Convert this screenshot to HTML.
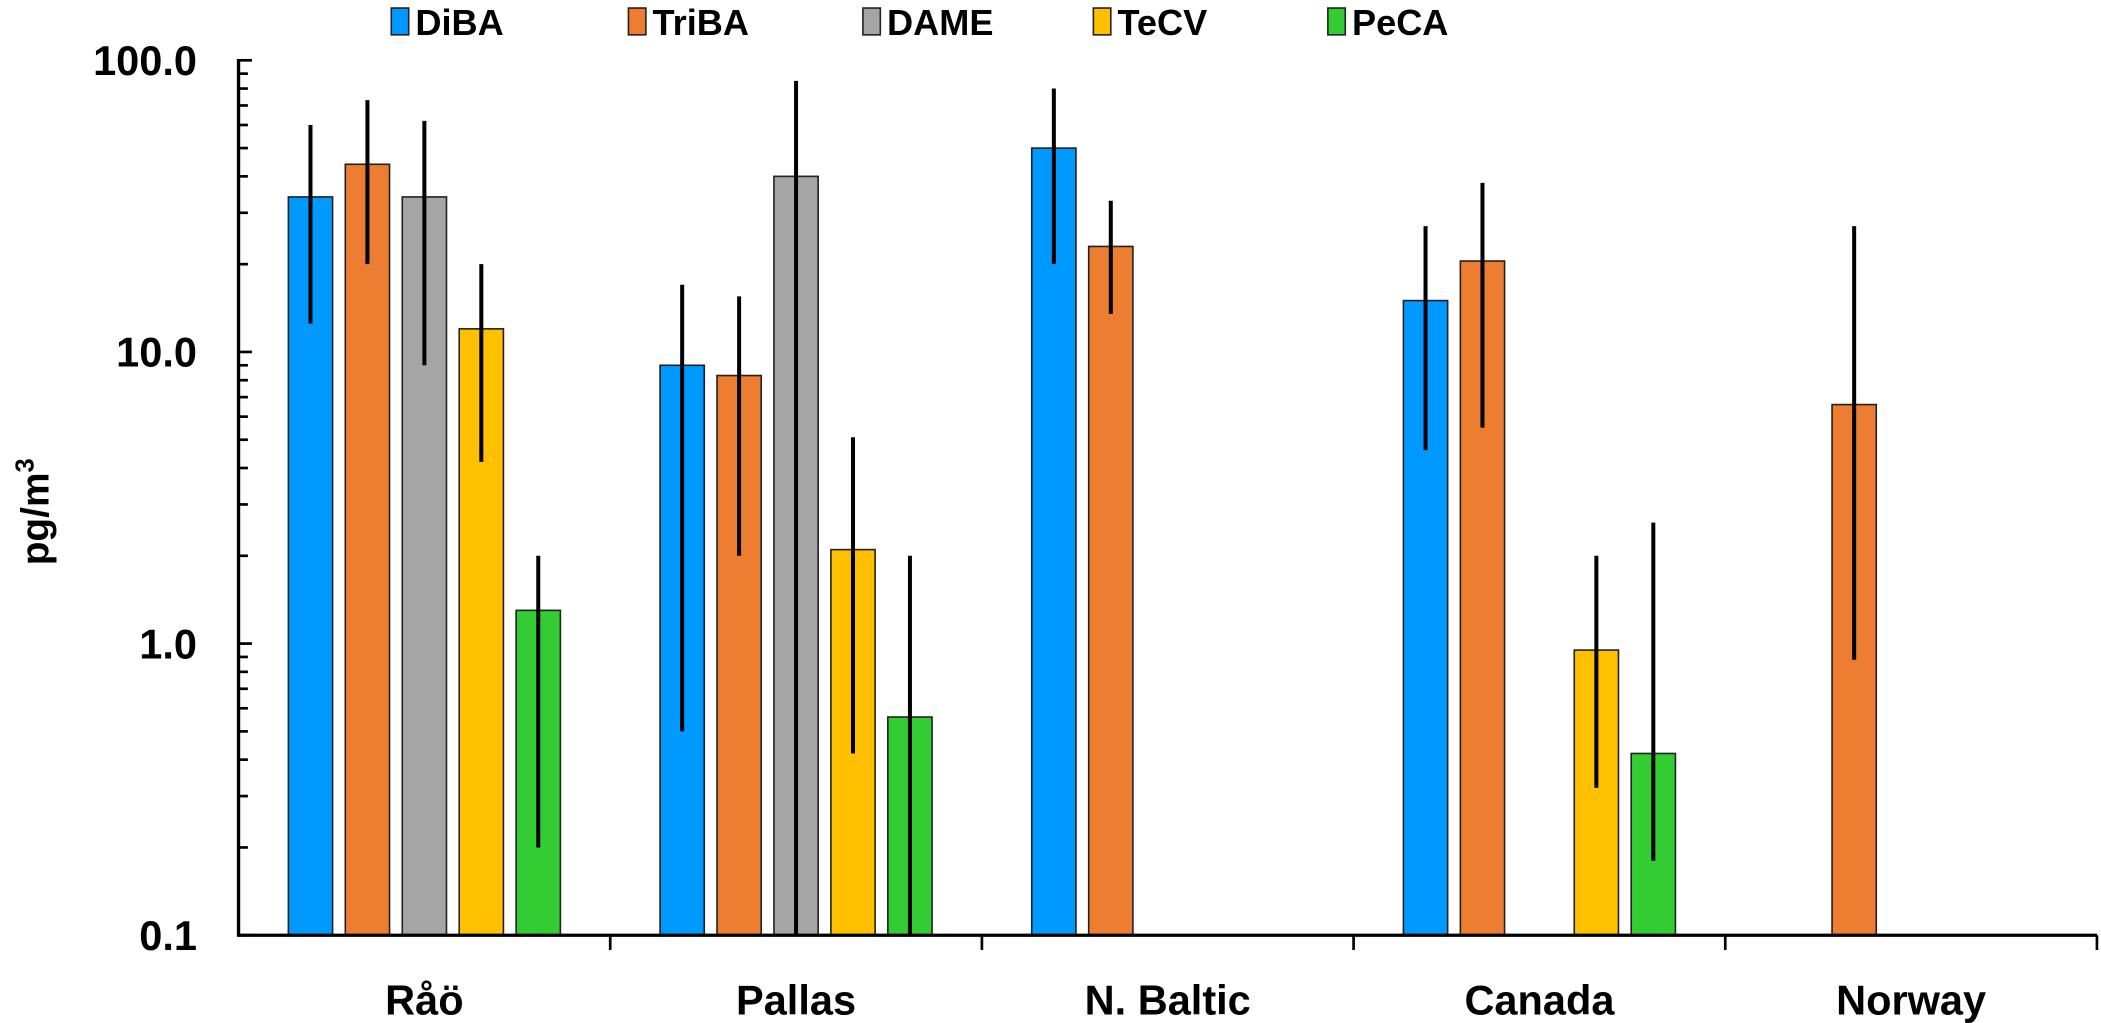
<!DOCTYPE html>
<html><head><meta charset="utf-8"><style>
html,body{margin:0;padding:0;background:#fff}
svg{display:block}
text{font-family:"Liberation Sans",Arial,sans-serif;font-weight:bold;fill:#000}
</style></head><body>
<svg id="chart" width="2101" height="1023" viewBox="0 0 1568 763.5" xmlns="http://www.w3.org/2000/svg"></svg>
<script>
const categories = ["Råö","Pallas","N. Baltic","Canada","Norway"];
const seriesNames = ["DiBA","TriBA","DAME","TeCV","PeCA"];
const seriesColors = ["#0099ff","#ed7d31","#a5a5a5","#ffc000","#33cc33"];
const diba  = [34, 9, 50, 15, null];
const triba = [44, 8.3, 23, 20.5, 6.6];
const dame  = [34, 40, null, null, null];
const tecv  = [12, 2.1, null, 0.95, null];
const peca  = [1.3, 0.56, null, 0.42, null];
const dibaLo=[12.5,0.5,20,4.6,null], dibaHi=[60,17,80,27,null];
const tribaLo=[20,2,13.5,5.5,0.88], tribaHi=[73,15.5,33,38,27];
const dameLo=[9,0.1,null,null,null], dameHi=[62,85,null,null,null];
const tecvLo=[4.2,0.42,null,0.32,null], tecvHi=[20,5.1,null,2.0,null];
const pecaLo=[0.2,0.1,null,0.18,null], pecaHi=[2.0,2.0,null,2.6,null];
const yTicks = [0.1,1,10,100];
const yTickLabels = ["0.1","1.0","10.0","100.0"];

const values=[diba,triba,dame,tecv,peca], lows=[dibaLo,tribaLo,dameLo,tecvLo,pecaLo], highs=[dibaHi,tribaHi,dameHi,tecvHi,pecaHi];
const svg=document.getElementById('chart');
const NS='http://www.w3.org/2000/svg';
const X0=178,X1=1565,YT=45,YB=698;
const y=v=>YB-(Math.log10(v)-Math.log10(0.1))/3*(YB-YT);
const gw=(X1-X0)/categories.length, pitch=42.5, bw=33;
const bx=(g,s)=>X0+g*gw+gw/2+(s-2)*pitch;
function mk(tag,attrs,parent){const e=document.createElementNS(NS,tag);for(const k in attrs)e.setAttribute(k,attrs[k]);(parent||svg).appendChild(e);return e;}

for(let s=0;s<5;s++)for(let g=0;g<categories.length;g++){
  const v=values[s][g]; if(v==null) continue;
  const r=mk('rect',{x:bx(g,s)-bw/2,y:y(v),width:bw,height:YB-y(v),fill:seriesColors[s],stroke:'#222','stroke-width':1.2});
  
  
  const l=mk('line',{x1:bx(g,s),x2:bx(g,s),y1:y(lows[s][g]),y2:y(highs[s][g]),stroke:'#000','stroke-width':3});
  
  
}
const ya=mk('line',{x1:X0,x2:X0,y1:YT-1,y2:YB+1,stroke:'#000','stroke-width':2.5});


const xa=mk('line',{x1:X0-1,x2:X1,y1:YB,y2:YB,stroke:'#000','stroke-width':2.5});


for(let d=0;d<3;d++)for(let m=1;m<=10;m++){
  const v=Math.pow(10,d-1)*m; if(m===1&&d>0)continue;
  const major=(m===1||m===10);
  const t=mk('line',{x1:X0,x2:X0+(major?10:7),y1:y(v),y2:y(v),stroke:'#000','stroke-width':2});
  
  
}
yTicks.forEach((v,i)=>{
  const t=mk('text',{x:147,y:y(v)+11,'text-anchor':'end','font-size':31});
  t.textContent=yTickLabels[i];
  
  
});
for(let g=1;g<=categories.length;g++){
  const t=mk('line',{x1:X0+g*gw,x2:X0+g*gw,y1:YB,y2:YB+11,stroke:'#000','stroke-width':2});
  
  
}
categories.forEach((c,g)=>{
  const t=mk('text',{x:X0+g*gw+gw/2,y:757,'text-anchor':'middle','font-size':31});
  t.textContent=c;
  
  
});
const yt=mk('text',{x:0,y:0,'text-anchor':'middle','font-size':29,transform:'translate(36,382) rotate(-90)'});
yt.innerHTML='pg/m<tspan dy="-11" font-size="19">3</tspan>';


const lx=[292,469,644,816,991];
seriesNames.forEach((n,i)=>{
  const r=mk('rect',{x:lx[i],y:6,width:13,height:20,fill:seriesColors[i],stroke:'#222','stroke-width':1.2});
  
  
  const t=mk('text',{x:lx[i]+18,y:26,'font-size':27});
  t.textContent=n;
  
  
});
</script>
</body></html>
